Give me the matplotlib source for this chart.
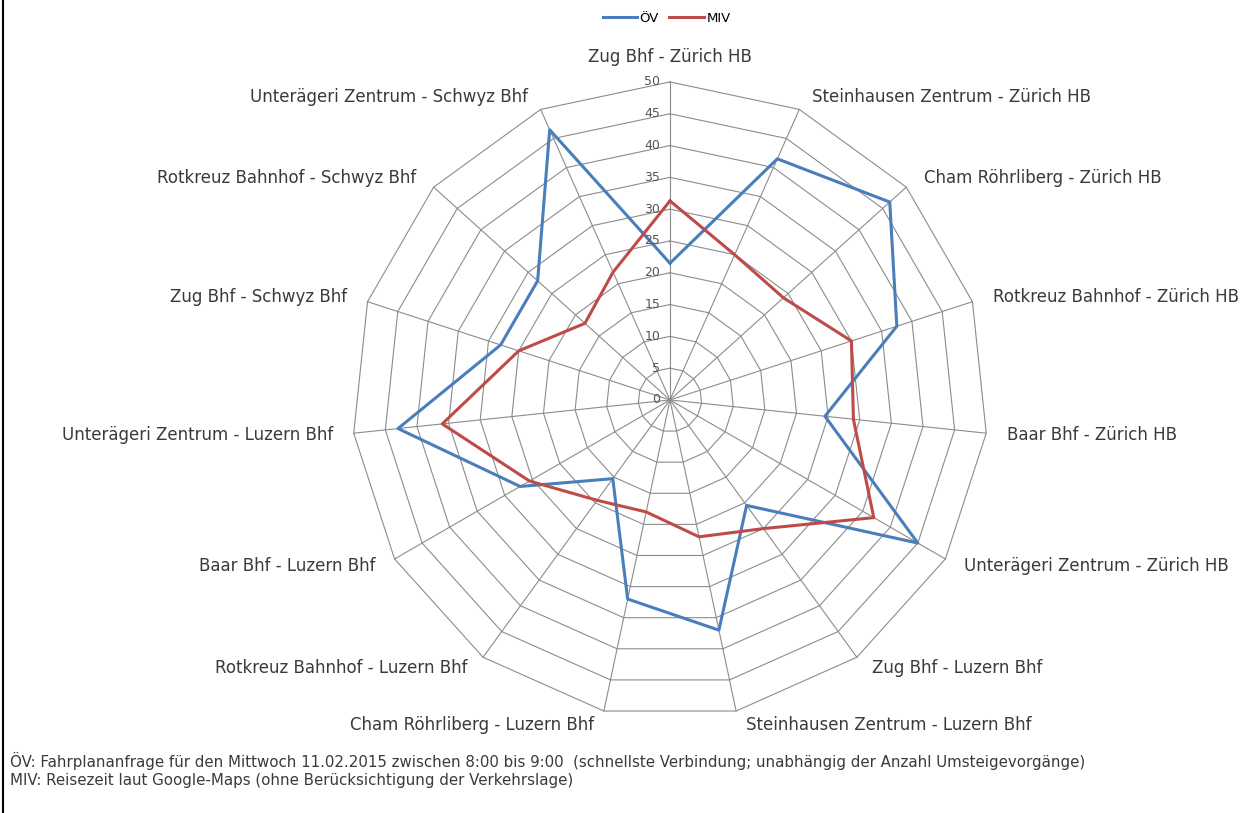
import numpy as np
import matplotlib.pyplot as plt
from matplotlib.lines import Line2D

categories = ["Zug Bhf - Zürich HB", "Steinhausen Zentrum - Zürich HB",
              "Cham Röhrliberg - Zürich HB", "Rotkreuz Bahnhof - Zürich HB",
              "Baar Bhf - Zürich HB", "Unterägeri Zentrum - Zürich HB",
              "Zug Bhf - Luzern Bhf", "Steinhausen Zentrum - Luzern Bhf",
              "Cham Röhrliberg - Luzern Bhf", "Rotkreuz Bahnhof - Luzern Bhf",
              "Baar Bhf - Luzern Bhf", "Unterägeri Zentrum - Luzern Bhf",
              "Zug Bhf - Schwyz Bhf", "Rotkreuz Bahnhof - Schwyz Bhf",
              "Unterägeri Zentrum - Schwyz Bhf"]
oev = [21.5, 41.5, 46.5, 37.5, 24.5, 45, 20.5, 37, 32, 15.3, 27.2, 43, 28, 28, 46.5]
miv = [31.3, 25, 24, 30, 29, 37, 25, 22, 18, 19.5, 25.5, 36, 25, 18, 22]
rings = [0, 5, 10, 15, 20, 25, 30, 35, 40, 45, 50]

note1 = ("ÖV: Fahrplananfrage für den Mittwoch 11.02.2015 zwischen 8:00 bis 9:00  "
         "(schnellste Verbindung; unabhängig der Anzahl Umsteigevorgänge)")
note2 = "MIV: Reisezeit laut Google-Maps (ohne Berücksichtigung der Verkehrslage)"

blue = "#4a7ebb"
red = "#be4b48"
grid = "#8c8c8c"
txt = "#3a3a3a"

n = len(categories)
angles = np.linspace(0, 2 * np.pi, n, endpoint=False)
closed = np.append(angles, angles[0])

fig = plt.figure(figsize=(12.53, 8.13), dpi=100)
ax = fig.add_axes([0.2809, 0.1169, 0.5076, 0.7823], projection="polar")
ax.set_theta_zero_location("N")
ax.set_theta_direction(-1)
ax.set_ylim(0, 50)
ax.grid(False)
ax.spines["polar"].set_visible(False)
ax.set_xticks([])
ax.set_yticks([])
ax.patch.set_alpha(0)

# polygon grid
for r in rings[1:]:
    ax.plot(closed, [r] * (n + 1), color=grid, lw=0.8, zorder=1, clip_on=False)
for a in angles:
    ax.plot([a, a], [0, rings[-1]], color=grid, lw=0.8, zorder=1, clip_on=False)

ax.plot(closed, oev + oev[:1], color=blue, lw=2.2, label="ÖV", zorder=3, clip_on=False)
ax.plot(closed, miv + miv[:1], color=red, lw=2.2, label="MIV", zorder=3, clip_on=False)

# radial tick labels
for r in rings:
    ax.annotate(str(r), xy=(0, r), xytext=(-7, 0), textcoords="offset points",
                ha="right", va="center", fontsize=9, color="#555555")

# category labels
for a, name in zip(angles, categories):
    s, c = np.sin(a), np.cos(a)
    if abs(s) < 0.01:
        ha, dx, dy = "center", 0, 18
    else:
        ha = "left" if s > 0 else "right"
        dx, dy = 10 * s + 5 * np.sign(s), 10 * c
    ax.annotate(name, xy=(a, rings[-1]), xytext=(dx, dy), textcoords="offset points",
                ha=ha, va="center", fontsize=12, color=txt)

fig.legend(loc="upper center", bbox_to_anchor=(0.532, 1.0), ncol=2, frameon=False,
           fontsize=9.5, handlelength=2.6, columnspacing=0.8, handletextpad=0.2)

fig.text(0.008, 1 - 761 / 813, note1, fontsize=10.8, color=txt, va="center")
fig.text(0.008, 1 - 780 / 813, note2, fontsize=10.8, color=txt, va="center")

fig.add_artist(Line2D([0.002, 0.002], [0, 1], transform=fig.transFigure, color="black", lw=1.5))

fig.savefig("out.png", dpi=100)
